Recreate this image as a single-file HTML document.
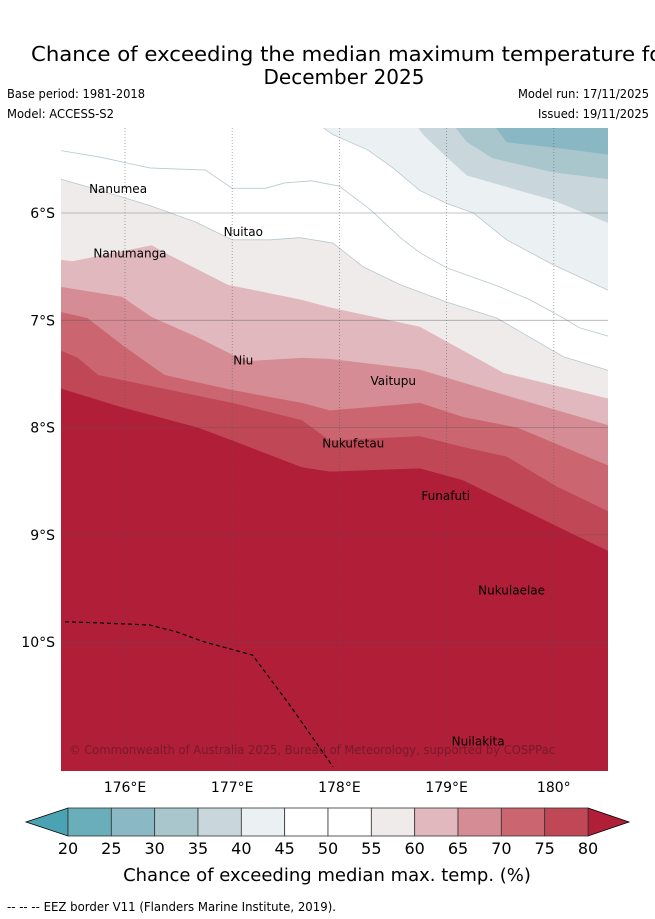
<!DOCTYPE html>
<html><head><meta charset="utf-8"><style>
body{margin:0;background:#fff;width:655px;height:919px;overflow:hidden;font-family:"DejaVu Sans","Liberation Sans",sans-serif}
svg{position:absolute;left:0;top:0}
</style></head><body>
<svg id="s" width="655" height="919" xmlns="http://www.w3.org/2000/svg">
<text x="31" y="61" font-size="20.5" textLength="640" lengthAdjust="spacingAndGlyphs" fill="#000">Chance of exceeding the median maximum temperature for</text>
<text x="344" y="84" font-size="20" text-anchor="middle" fill="#000">December 2025</text>
<text x="7" y="98" font-size="12" textLength="138" lengthAdjust="spacingAndGlyphs">Base period: 1981-2018</text>
<text x="7" y="118" font-size="12" textLength="107" lengthAdjust="spacingAndGlyphs">Model: ACCESS-S2</text>
<text x="649" y="98" font-size="12" text-anchor="end" textLength="131" lengthAdjust="spacingAndGlyphs">Model run: 17/11/2025</text>
<text x="649" y="118" font-size="12" text-anchor="end" textLength="111" lengthAdjust="spacingAndGlyphs">Issued: 19/11/2025</text>
<defs><clipPath id="mc"><rect x="61" y="128" width="547" height="643"/></clipPath></defs>
<g id="map" clip-path="url(#mc)"></g>
<g id="axes"></g>
<g id="cbar"></g>
<text x="327" y="881" font-size="18" text-anchor="middle">Chance of exceeding median max. temp. (%)</text>
<text x="7" y="911" font-size="12" textLength="329" lengthAdjust="spacingAndGlyphs">--  --  -- EEZ border V11 (Flanders Marine Institute, 2019).</text>
</svg>
<script>
// Contour boundaries (lon °E, lat °S)
const c80Lon=[175.35,175.97,176.68,177.00,177.65,177.91,178.75,179.15,179.66,180.09,180.55];
const c80Lat=[7.62,7.81,8.00,8.12,8.37,8.41,8.38,8.49,8.74,8.95,9.17];
const c75Lon=[175.35,175.56,175.75,176.28,177.00,177.65,177.91,178.75,179.15,179.56,180.03,180.55];
const c75Lat=[7.26,7.35,7.51,7.62,7.77,7.93,8.12,8.08,8.18,8.27,8.55,8.80];
const c70Lon=[175.35,175.65,176.00,176.37,177.00,177.65,177.91,178.75,179.15,179.66,180.09,180.55];
const c70Lat=[6.91,6.98,7.25,7.51,7.65,7.77,7.84,7.77,7.90,8.00,8.18,8.37];
const c65Lon=[175.35,175.97,176.25,176.68,177.00,177.15,177.65,177.91,178.75,179.15,179.59,180.55];
const c65Lat=[6.68,6.78,6.97,7.16,7.32,7.38,7.35,7.36,7.46,7.58,7.71,7.99];
const c60Lon=[175.35,175.51,176.25,176.37,176.96,177.21,177.65,177.91,178.75,179.15,179.53,180.55];
const c60Lat=[6.43,6.45,6.30,6.37,6.67,6.72,6.81,6.88,7.06,7.28,7.49,7.74];
const c55Lon=[175.35,175.77,176.23,176.65,177.00,177.35,177.63,177.94,178.22,178.57,179.00,179.47,180.09,180.55];
const c55Lat=[5.67,5.79,5.93,6.08,6.25,6.25,6.23,6.28,6.50,6.67,6.83,6.98,7.34,7.48];
const c50Lon=[175.35,175.77,176.23,176.75,177.00,177.31,177.49,177.74,178.00,178.29,178.57,178.75,179.00,179.50,179.78,180.09,180.24,180.55];
const c50Lat=[5.41,5.48,5.58,5.60,5.77,5.77,5.72,5.70,5.75,5.97,6.23,6.37,6.51,6.69,6.81,6.98,7.07,7.16];
const c45Lon=[177.70,177.94,178.26,178.50,178.75,179.00,179.25,179.56,179.99,180.55];
const c45Lat=[5.10,5.27,5.41,5.58,5.79,5.91,6.00,6.25,6.48,6.74];
const c40Lon=[178.66,178.78,179.00,179.19,179.50,179.99,180.55];
const c40Lat=[5.10,5.27,5.48,5.65,5.74,5.88,6.11];
const c35Lon=[179.00,179.19,179.43,179.99,180.55];
const c35Lat=[5.10,5.34,5.49,5.62,5.69];
const c30Lon=[179.38,179.56,179.99,180.55];
const c30Lat=[5.10,5.34,5.39,5.46];
const eezLon=[175.44,175.77,176.23,176.47,176.75,177.19,177.54,177.94];
const eezLat=[9.81,9.82,9.84,9.90,10.00,10.12,10.59,11.16];
const islandNames=["Nanumea","Nuitao","Nanumanga","Niu","Vaitupu","Nukufetau","Funafuti","Nukulaelae","Nuilakita"];
const islandLon=[175.665,176.92,175.705,177.01,178.29,177.84,178.765,179.294,179.047];
const islandLat=[5.72,6.12,6.32,7.32,7.51,8.09,8.58,9.46,10.87];
const lonTicks=[176,177,178,179,180];
const lonLabels=["176°E","177°E","178°E","179°E","180°"];
const latTicks=[6,7,8,9,10];
const latLabels=["6°S","7°S","8°S","9°S","10°S"];
const cbTicks=[20,25,30,35,40,45,50,55,60,65,70,75,80];
const cbColors=["#6aaeb9","#8ab8c4","#a9c6cc","#c9d7dc","#ebf0f3","#ffffff","#ffffff","#eeebea","#e0b8bd","#d68c94","#cb6671","#c04856"];

const NS="http://www.w3.org/2000/svg";
const X=lon=>125+(lon-176)*107.2;
const Y=lat=>213+(lat-6)*107.3;
function mk(tag,at,parent){const e=document.createElementNS(NS,tag);for(const k in at)e.setAttribute(k,at[k]);parent.appendChild(e);return e;}
const map=document.getElementById('map'),axes=document.getElementById('axes'),cb=document.getElementById('cbar');

let bg=mk('rect',{x:61,y:128,width:547,height:643,fill:'#b01e38'},map);



function band(lons,lats,fill,name,corner,stroke){
  let pts=lons.map((l,i)=>X(l)+','+Y(lats[i]));
  if(corner==='north'){pts.push(X(180.6)+','+Y(5.0));pts.push(X(175.3)+','+Y(5.0));}
  else{pts.push(X(180.6)+','+Y(5.0));}
  const p=mk('polygon',{points:pts.join(' '),fill:fill,stroke:stroke||'none','stroke-width':0.8},map);
  
  
}
band(c80Lon,c80Lat,'#c04856','contour-75-80','north');
band(c75Lon,c75Lat,'#cb6671','contour-70-75','north');
band(c70Lon,c70Lat,'#d68c94','contour-65-70','north');
band(c65Lon,c65Lat,'#e0b8bd','contour-60-65','north');
band(c60Lon,c60Lat,'#eeebea','contour-55-60','north');
band(c55Lon,c55Lat,'#ffffff','contour-50-55','north','#b9c8cf');
band(c50Lon,c50Lat,'#ffffff','contour-45-50','north','#b9c8cf');
band(c45Lon,c45Lat,'#ebf0f3','contour-40-45','ne','#b9c8cf');
band(c40Lon,c40Lat,'#c9d7dc','contour-35-40','ne');
band(c35Lon,c35Lat,'#a9c6cc','contour-30-35','ne');
band(c30Lon,c30Lat,'#89b7c3','contour-25-30','ne');

lonTicks.forEach((l,i)=>{
  const g=mk('line',{x1:X(l),x2:X(l),y1:128,y2:771,stroke:'#555','stroke-width':0.8,'stroke-dasharray':'1,2',opacity:0.6},map);
  
  
  const t=mk('text',{x:X(l),y:792,'font-size':14,'text-anchor':'middle'},axes);t.textContent=lonLabels[i];
  
  
});
latTicks.forEach((l,i)=>{
  const g=mk('line',{x1:61,x2:608,y1:Y(l),y2:Y(l),stroke:'#555','stroke-width':0.8,opacity:0.45},map);
  
  
  const t=mk('text',{x:55,y:Y(l)+5,'font-size':14,'text-anchor':'end'},axes);t.textContent=latLabels[i];
  
  
});
const eez=mk('polyline',{points:eezLon.map((l,i)=>X(l)+','+Y(eezLat[i])).join(' '),fill:'none',stroke:'#000','stroke-width':1.2,'stroke-dasharray':'4,3'},map);


islandNames.forEach((n,i)=>{
  const t=mk('text',{x:X(islandLon[i]),y:Y(islandLat[i])+10,'font-size':12,'text-anchor':'start',fill:'#000'},map);
  t.textContent=n;
  
  
});
const cr=mk('text',{x:69,y:754,'font-size':12,fill:'#6e1a28','fill-opacity':0.85,textLength:486,lengthAdjust:'spacingAndGlyphs'},map);
cr.textContent='© Commonwealth of Australia 2025, Bureau of Meteorology, supported by COSPPac';



const cx=v=>68+(v-20)*(520/60);
const lt=mk('polygon',{points:'26,822 68,808 68,836',fill:'#4aa2b2',stroke:'#000','stroke-width':0.8},cb);


const rt=mk('polygon',{points:'588,808 629,822 588,836',fill:'#b01e38',stroke:'#000','stroke-width':0.8},cb);


cbColors.forEach((c,i)=>{
  const r=mk('rect',{x:cx(cbTicks[i]),y:808,width:cx(cbTicks[i+1])-cx(cbTicks[i]),height:28,fill:c,stroke:'#333','stroke-width':0.8},cb);
  
  
});
cbTicks.forEach(v=>{
  const t=mk('text',{x:cx(v),y:854,'font-size':16,'text-anchor':'middle'},cb);t.textContent=v;
  
  
});
</script>
</body></html>
